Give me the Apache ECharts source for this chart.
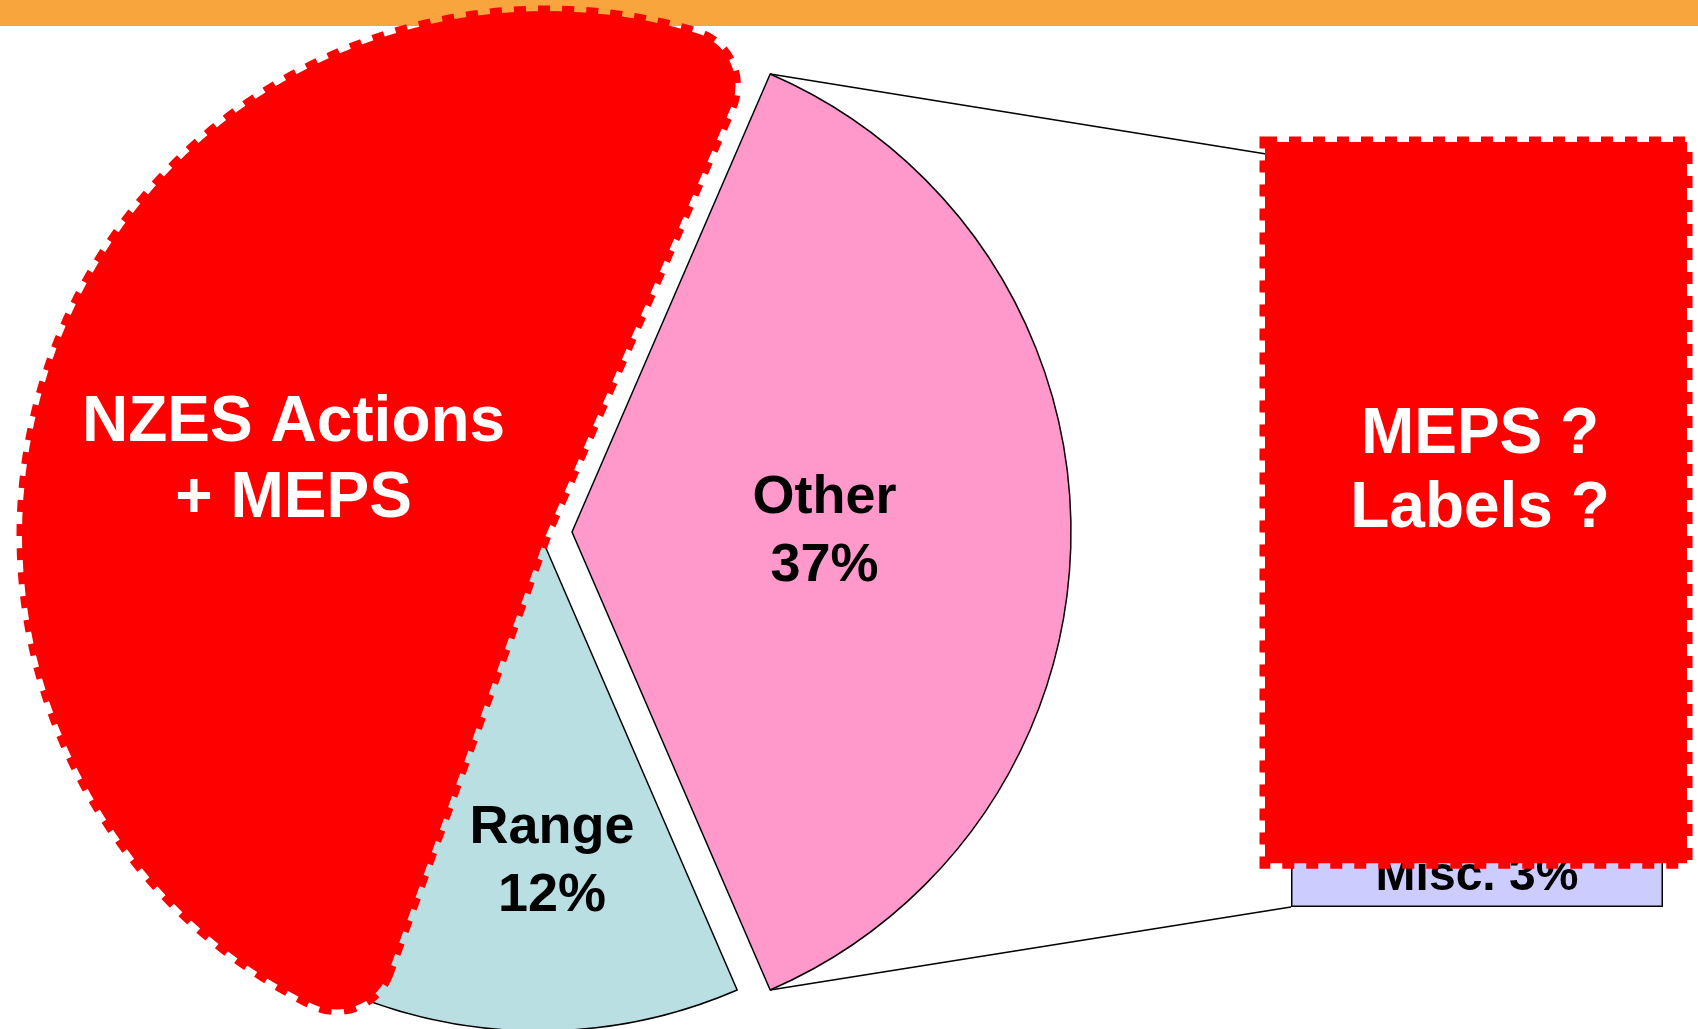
<!DOCTYPE html>
<html>
<head>
<meta charset="utf-8">
<script src="https://cdn.jsdelivr.net/npm/echarts@6/dist/echarts.min.js"></script>
<style>
  html, body { margin: 0; padding: 0; background: #fff; }
  #chart { width: 1698px; height: 1029px; }
</style>
</head>
<body>
<div id="chart"></div>
<script>
  // pie: share of use (%)
  var pieNames = ['Other', 'Range', 'NZES Actions + MEPS']
  var pieValues = [37, 12, 51]
  var pieColors = ['#FF99CC', '#B9DFE3', '#333399']

  // bar of pie: breakdown of "Other"
  var barNames = ['Misc.', 'Rest of other']
  var barValues = [3, 34]
  var barColors = ['#CCCCFF', '#FFFFFF']

  // text on the red box over the bar
  var boxText = ['MEPS ?', 'Labels ?']

  var FONT = 'Liberation Sans, Arial, sans-serif'
  var RED = '#FF0000'

  // layout
  var pieCenter = [539, 532]
  var pieR = 499
  var explode = 33
  var coverCenter = [546, 535]
  var coverR = 524
  var bar = { left: 1291, right: 1663, top: 158, bottom: 907 }

  var pieTotal = pieValues.reduce(function (a, b) { return a + b }, 0)
  var barTotal = barValues.reduce(function (a, b) { return a + b }, 0)
  var startAngle = pieValues[0] / pieTotal * 180

  // connector lines from the exploded slice to the bar
  var half = startAngle * Math.PI / 180
  var tipX = pieCenter[0] + explode + pieR * Math.cos(half)
  var tipTop = pieCenter[1] - pieR * Math.sin(half)
  var tipBottom = pieCenter[1] + pieR * Math.sin(half)
  var miscTop = bar.bottom - (bar.bottom - bar.top) * barValues[0] / barTotal

  var chart = echarts.init(document.getElementById('chart'))

  var option = {
    animation: false,
    backgroundColor: '#fff',
    grid: {
      left: bar.left,
      right: 1698 - bar.right,
      top: bar.top,
      bottom: 1029 - bar.bottom
    },
    xAxis: { type: 'category', data: ['Other'], show: false },
    yAxis: { type: 'value', min: 0, max: barTotal, show: false },
    graphic: [
      { type: 'rect', z: 0, shape: { x: 0, y: 0, width: 1698, height: 26 }, style: { fill: '#F9A53D' } },
      { type: 'line', z: 10, shape: { x1: tipX, y1: tipTop, x2: bar.left, y2: bar.top }, style: { stroke: '#000', lineWidth: 1.5 } },
      { type: 'line', z: 10, shape: { x1: tipX, y1: tipBottom, x2: bar.left, y2: bar.bottom }, style: { stroke: '#000', lineWidth: 1.5 } },
      {
        type: 'rect', z: 10,
        shape: { x: bar.left - 26, y: bar.top - 16, width: bar.right - bar.left + 50, height: miscTop + 17 - (bar.top - 16) },
        style: { fill: RED, stroke: RED, lineWidth: 11, lineDash: [12, 12] }
      },
      {
        type: 'text', z: 11, x: 1480, y: 472,
        style: {
          text: boxText.join('\n'), align: 'center', verticalAlign: 'middle',
          fill: '#fff', fontSize: 64, fontWeight: 'bold', fontFamily: FONT, lineHeight: 74
        }
      }
    ],
    series: [
      {
        type: 'pie',
        z: 2,
        center: pieCenter,
        radius: pieR,
        startAngle: startAngle,
        selectedMode: 'single',
        selectedOffset: explode,
        avoidLabelOverlap: false,
        emphasis: { disabled: true },
        itemStyle: { borderColor: '#000', borderWidth: 1.5 },
        label: {
          show: true, position: 'inside', formatter: '{b}\n{d}%',
          color: '#000', fontSize: 54, fontWeight: 'bold', fontFamily: FONT, lineHeight: 68
        },
        labelLine: { show: false },
        labelLayout: function (p) {
          if (p.dataIndex === 1) return { dx: 5, dy: 78 }
        },
        data: pieNames.map(function (n, i) {
          return {
            name: n,
            value: pieValues[i],
            selected: i === 0,
            itemStyle: { color: pieColors[i] },
            select: { itemStyle: { color: pieColors[i], borderColor: '#000', borderWidth: 1.5 } },
            label: { show: i < 2 }
          }
        })
      },
      {
        // red dashed cover drawn over the hidden slice
        type: 'pie',
        z: 3,
        silent: true,
        center: coverCenter,
        radius: coverR,
        startAngle: startAngle,
        avoidLabelOverlap: false,
        emphasis: { disabled: true },
        label: {
          position: 'inside',
          formatter: function (p) { return p.name.replace(' + ', '\n+ ') },
          color: '#fff', fontSize: 64, fontWeight: 'bold', fontFamily: FONT, lineHeight: 76
        },
        labelLine: { show: false },
        labelLayout: { dx: -6, dy: 24 },
        data: pieNames.map(function (n, i) {
          var cover = i === 2
          return {
            name: n,
            value: pieValues[i],
            itemStyle: cover
              ? { color: RED, borderColor: RED, borderWidth: 11, borderType: [12, 12], borderRadius: [0, 55] }
              : { color: 'transparent', borderWidth: 0 },
            label: { show: cover }
          }
        })
      },
      {
        type: 'bar',
        name: barNames[0],
        stack: 'other',
        barWidth: '100%',
        emphasis: { disabled: true },
        itemStyle: { color: barColors[0], borderColor: '#000', borderWidth: 1.5 },
        label: {
          show: true, position: 'inside', formatter: '{a} {c}%',
          color: '#000', fontSize: 48, fontWeight: 'bold', fontFamily: FONT
        },
        data: [barValues[0]]
      },
      {
        type: 'bar',
        name: barNames[1],
        stack: 'other',
        barWidth: '100%',
        emphasis: { disabled: true },
        itemStyle: { color: barColors[1], borderColor: '#000', borderWidth: 1.5 },
        data: [barValues[1]]
      }
    ]
  }

  chart.setOption(option)
</script>
</body>
</html>
